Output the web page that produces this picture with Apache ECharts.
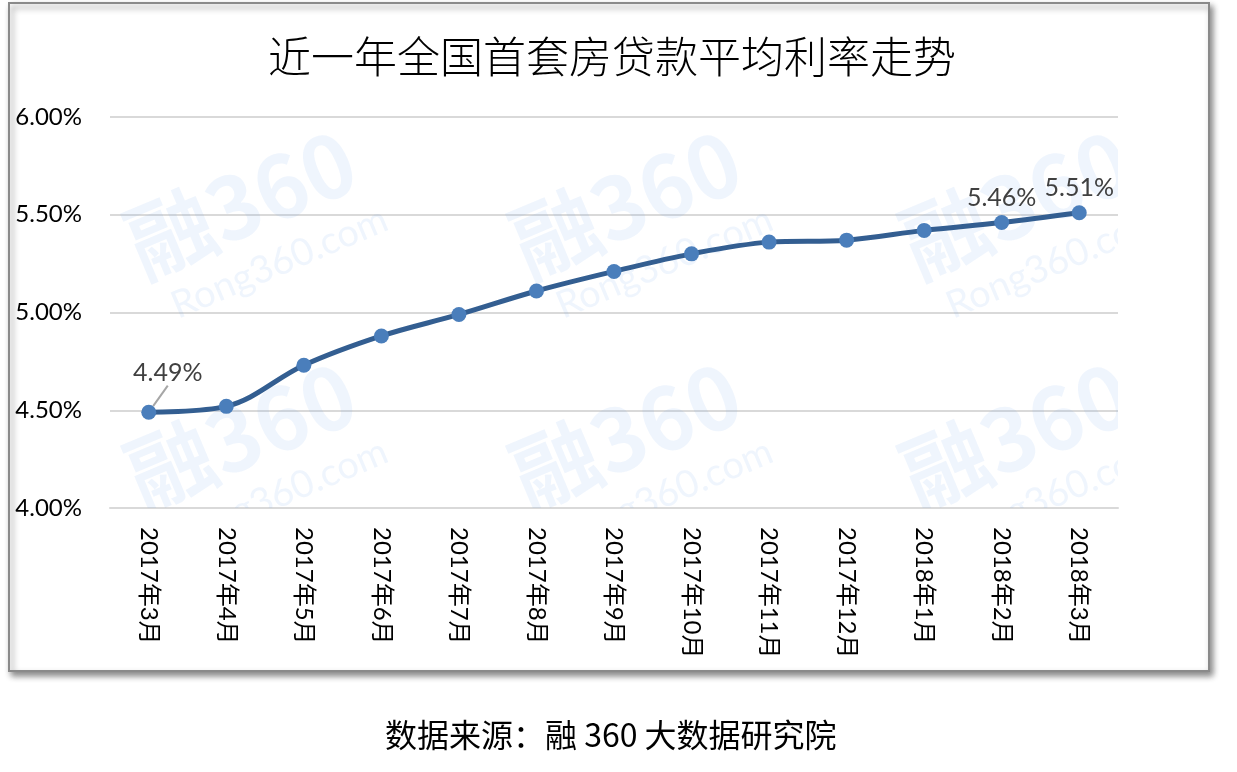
<!DOCTYPE html>
<html>
<head>
<meta charset="utf-8">
<script src="https://cdn.jsdelivr.net/npm/echarts@6/dist/echarts.min.js"></script>
<style>
html,body{margin:0;padding:0;background:#fff;}
#chart{width:1237px;height:772px;}
</style>
</head>
<body>
<div id="chart"></div>
<script>
const titleText = '近一年全国首套房贷款平均利率走势';
const sourceText = '数据来源：融 360 大数据研究院';
const categories = ['2017年3月','2017年4月','2017年5月','2017年6月','2017年7月','2017年8月','2017年9月','2017年10月','2017年11月','2017年12月','2018年1月','2018年2月','2018年3月'];
const rates = [4.49, 4.52, 4.73, 4.88, 4.99, 5.11, 5.21, 5.30, 5.36, 5.37, 5.42, 5.46, 5.51];
const labelledIndices = [0, 11, 12];
const yTicks = [4.00, 4.50, 5.00, 5.50, 6.00];

const chart = echarts.init(document.getElementById('chart'), null, {renderer:'canvas'});

const labelOffsets = {0:[0,0], 11:[-21,-5], 12:[12,-10]};
const seriesData = rates.map((v, i) => {
  if (labelledIndices.indexOf(i) >= 0) {
    const item = {value: v, label: {show: true, offset: labelOffsets[i]}};
    if (i === 0) item.labelLine = {show: true};
    return item;
  }
  return {value: v};
});

const numFont = 'Lato, "Noto Sans", "Noto Sans CJK SC", sans-serif';
const cjkFont = '"Noto Sans CJK SC", sans-serif';

const option = {
  animation: false,
  backgroundColor: '#fff',
  title: {
    text: titleText,
    left: 263,
    top: 30,
    textStyle: {fontFamily: cjkFont, fontSize: 43, fontWeight: 300, color: '#000'}
  },
  graphic: [
    {
      type: 'rect', z: -10, silent: true,
      shape: {x: 9, y: 3, width: 1200, height: 668},
      style: {fill: '#fff', stroke: '#8a8a8a', lineWidth: 2,
        shadowBlur: 6, shadowOffsetX: 3, shadowOffsetY: 4, shadowColor: 'rgba(0,0,0,0.45)'}
    },
    {
      type: 'text', silent: true,
      left: 385, top: 719,
      style: {text: sourceText, font: '32px ' + cjkFont, fill: '#000'}
    }
  ],
  grid: {left: 110, right: 119, top: 117, bottom: 264, containLabel: false},
  xAxis: {
    type: 'category',
    data: categories,
    boundaryGap: true,
    axisLine: {show: true, lineStyle: {color: '#d9d9d9', width: 2}},
    axisTick: {show: false},
    axisLabel: {
      interval: 0, rotate: -90, margin: 19,
      fontFamily: numFont, fontSize: 24, color: '#000'
    }
  },
  yAxis: {
    type: 'value',
    min: yTicks[0], max: yTicks[yTicks.length - 1], interval: 0.5,
    axisLine: {show: false},
    axisTick: {show: false},
    splitLine: {lineStyle: {color: '#d9d9d9', width: 2}},
    axisLabel: {
      margin: 28, fontFamily: numFont, fontSize: 24, color: '#000',
      formatter: v => v.toFixed(2) + '%'
    }
  },
  series: [
    {
      type: 'custom', silent: true, clip: true, z: 1,
      data: [[0, yTicks[0]]],
      renderItem: (params, api) => {
        const cs = params.coordSys;
        const fill = 'rgba(110,160,235,0.11)';
        const children = [];
        [0, 385, 775].forEach(dx => {
          [0, 232].forEach(dy => {
            children.push({
              type: 'group', x: cs.x + 38 + dx, y: cs.y + 172 + dy, rotation: 0.4,
              children: [
                {type: 'text', style: {text: '融360', x: 0, y: 0, font: 'bold 86px ' + cjkFont, fill: fill, textVerticalAlign: 'bottom', letterSpacing: 8}},
                {type: 'text', style: {text: 'Rong360.com', x: 16, y: 46, font: '38px Lato', fill: fill, textVerticalAlign: 'bottom', letterSpacing: 7}}
              ]
            });
          });
        });
        return {type: 'group', children: children};
      }
    },
    {
      type: 'line',
      data: seriesData,
      smooth: 0.35,
      z: 3,
      symbol: 'circle',
      symbolSize: 15,
      lineStyle: {color: '#335e91', width: 5},
      itemStyle: {color: '#4a7ebb'},
      label: {
        show: false, position: 'top', distance: 5,
        fontFamily: numFont, fontSize: 25, color: '#404040',
        formatter: p => p.value.toFixed(2) + '%'
      },
      labelLine: {show: false, lineStyle: {color: '#a6a6a6', width: 2}},
      labelLayout: params => params.dataIndex === 0 ? {dx: 19, dy: -14} : {}
    }
  ]
};
chart.setOption(option);
</script>
</body>
</html>
